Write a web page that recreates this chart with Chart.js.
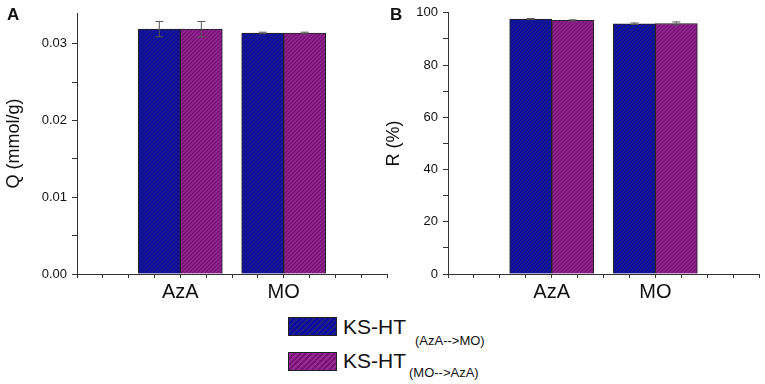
<!DOCTYPE html>
<html>
<head>
<meta charset="utf-8">
<script src="https://cdn.jsdelivr.net/npm/chart.js@4/dist/chart.umd.min.js"></script>
<style>
  body { margin: 0; background: #fff; font-family: 'Liberation Sans', Arial, sans-serif; }
  #wrap { position: relative; width: 765px; height: 384px; overflow: hidden; }
  canvas { position: absolute; top: 0; }
  .panel { position: absolute; top: 6px; font-size: 17px; line-height: 17px; font-weight: bold; color: #111; }
  .sw { position: absolute; left: 288px; width: 47px; height: 17px; border: 1px solid #222; }
  .sw.blue { top: 317px; background: repeating-linear-gradient(-45deg, #0c0ca0 0 2px, #1e1e84 2px 4px); }
  .sw.mag { top: 352px; background: repeating-linear-gradient(-45deg, #7a127a 0 2px, #932c92 2px 4px); }
  .lg { position: absolute; left: 343px; font-size: 21px; line-height: 21px; color: #111; white-space: nowrap; }
  .sub { position: absolute; font-size: 13px; line-height: 13px; color: #111; white-space: nowrap; }
</style>
</head>
<body>
<div id="wrap">
  <canvas id="chartA" width="390" height="300" style="left:0"></canvas>
  <canvas id="chartB" width="382" height="300" style="left:383px"></canvas>
  <div class="panel" style="left:7px">A</div>
  <div class="panel" style="left:390px">B</div>
  <div class="sw blue"></div>
  <div class="lg" style="top:316px">KS-HT</div>
  <div class="sub" style="left:415px; top:334px">(AzA-->MO)</div>
  <div class="sw mag"></div>
  <div class="lg" style="top:350px">KS-HT</div>
  <div class="sub" style="left:409px; top:366px">(MO-->AzA)</div>
</div>
<script>
// categories and series
const categories = ['AzA', 'MO'];
const seriesNames = ['KS-HT (AzA-->MO)', 'KS-HT (MO-->AzA)'];

const qAzaMo = [0.0319, 0.0314];
const qAzaMoErr = [0.0010, 0.0001];
const qMoAza = [0.0319, 0.0314];
const qMoAzaErr = [0.0010, 0.0001];

const rAzaMo = [97.6, 95.8];
const rAzaMoErr = [0.2, 0.3];
const rMoAza = [97.1, 95.9];
const rMoAzaErr = [0.2, 0.6];

const qTickLabels = ['0.00', '0.01', '0.02', '0.03'];
const rTickLabels = ['0', '20', '40', '60', '80', '100'];

const font = "'Liberation Sans', Arial, sans-serif";
const axisColor = '#333';

function hatch(base, line) {
    const c = document.createElement('canvas');
    c.width = 4; c.height = 4;
    const g = c.getContext('2d');
    g.fillStyle = base;
    g.fillRect(0, 0, 4, 4);
    g.strokeStyle = line;
    g.lineWidth = 1.2;
    g.beginPath();
    g.moveTo(0, 4); g.lineTo(4, 0);
    g.moveTo(-1, 1); g.lineTo(1, -1);
    g.moveTo(3, 5); g.lineTo(5, 3);
    g.stroke();
    return g.createPattern(c, 'repeat');
}

const bluePat = hatch('#0c0ca2', '#1e1e86');
const magPat = hatch('#7a127a', '#952e94');

const errorBars = {
    id: 'errorBars',
    afterDatasetsDraw(chart) {
        const ctx = chart.ctx;
        const y = chart.scales.y;
        chart.data.datasets.forEach((ds, i) => {
            chart.getDatasetMeta(i).data.forEach((bar, j) => {
                const v = ds.data[j].y, e = ds.errors[j];
                const top = y.getPixelForValue(v + e);
                const bot = y.getPixelForValue(v - e);
                ctx.save();
                ctx.strokeStyle = '#555';
                ctx.lineWidth = 1;
                ctx.beginPath();
                ctx.moveTo(bar.x, top); ctx.lineTo(bar.x, bot);
                ctx.moveTo(bar.x - 4, top); ctx.lineTo(bar.x + 4, top);
                ctx.moveTo(bar.x - 4, bot); ctx.lineTo(bar.x + 4, bot);
                ctx.stroke();
                ctx.restore();
            });
        });
    }
};

function points(vals) {
    return vals.map((v, i) => ({ x: i, y: v }));
}

function makeChart(id, a, aErr, b, bErr, yMax, step, labels, title, opt) {
    const ctx = document.getElementById(id).getContext('2d');
    return new Chart(ctx, {
        type: 'bar',
        data: {
            datasets: [{
                label: seriesNames[0],
                data: points(a),
                errors: aErr,
                backgroundColor: bluePat,
                borderColor: '#222',
                borderWidth: 1
            }, {
                label: seriesNames[1],
                data: points(b),
                errors: bErr,
                backgroundColor: magPat,
                borderColor: '#222',
                borderWidth: 1
            }]
        },
        options: {
            responsive: false,
            animation: false,
            barThickness: 42,
            layout: { padding: { top: opt.top, right: opt.right, left: 0, bottom: 0 } },
            plugins: { legend: { display: false }, tooltip: { enabled: false } },
            scales: {
                x: {
                    type: 'linear',
                    min: -1,
                    max: categories.length,
                    offset: false,
                    afterFit: (s) => { s.height = 26; },
                    grid: { offset: false, drawOnChartArea: false, tickLength: 4, tickColor: axisColor },
                    border: { color: axisColor, width: 1 },
                    ticks: {
                        stepSize: 0.25,
                        autoSkip: false,
                        maxRotation: 0,
                        padding: 2,
                        color: '#111',
                        font: { family: font, size: 20 },
                        callback: (v) => Number.isInteger(v) && categories[v] ? categories[v] : ''
                    }
                },
                y: {
                    min: 0,
                    max: yMax,
                    afterFit: (s) => { s.width = opt.yWidth; },
                    grid: { drawOnChartArea: false, tickLength: 5, tickColor: axisColor },
                    border: { color: axisColor, width: 1 },
                    title: {
                        display: true,
                        text: title,
                        color: '#111',
                        padding: { top: opt.titlePad, bottom: 0 },
                        font: { family: font, size: 18 }
                    },
                    ticks: {
                        stepSize: step / 2,
                        includeBounds: false,
                        padding: 5,
                        color: '#111',
                        font: { family: font, size: 13 },
                        callback: (v) => {
                            const k = Math.round(v / step);
                            return Math.abs(v / step - k) < 1e-6 && labels[k] !== undefined ? labels[k] : '';
                        }
                    }
                }
            }
        },
        plugins: [errorBars]
    });
}

makeChart('chartA', qAzaMo, qAzaMoErr, qMoAza, qMoAzaErr, 0.034, 0.01, qTickLabels, 'Q (mmol/g)',
    { top: 13, right: 3, yWidth: 77, titlePad: 3 });
makeChart('chartB', rAzaMo, rAzaMoErr, rMoAza, rMoAzaErr, 100, 20, rTickLabels, 'R (%)',
    { top: 12, right: 6, yWidth: 65, titlePad: 0 });
</script>
</body>
</html>
